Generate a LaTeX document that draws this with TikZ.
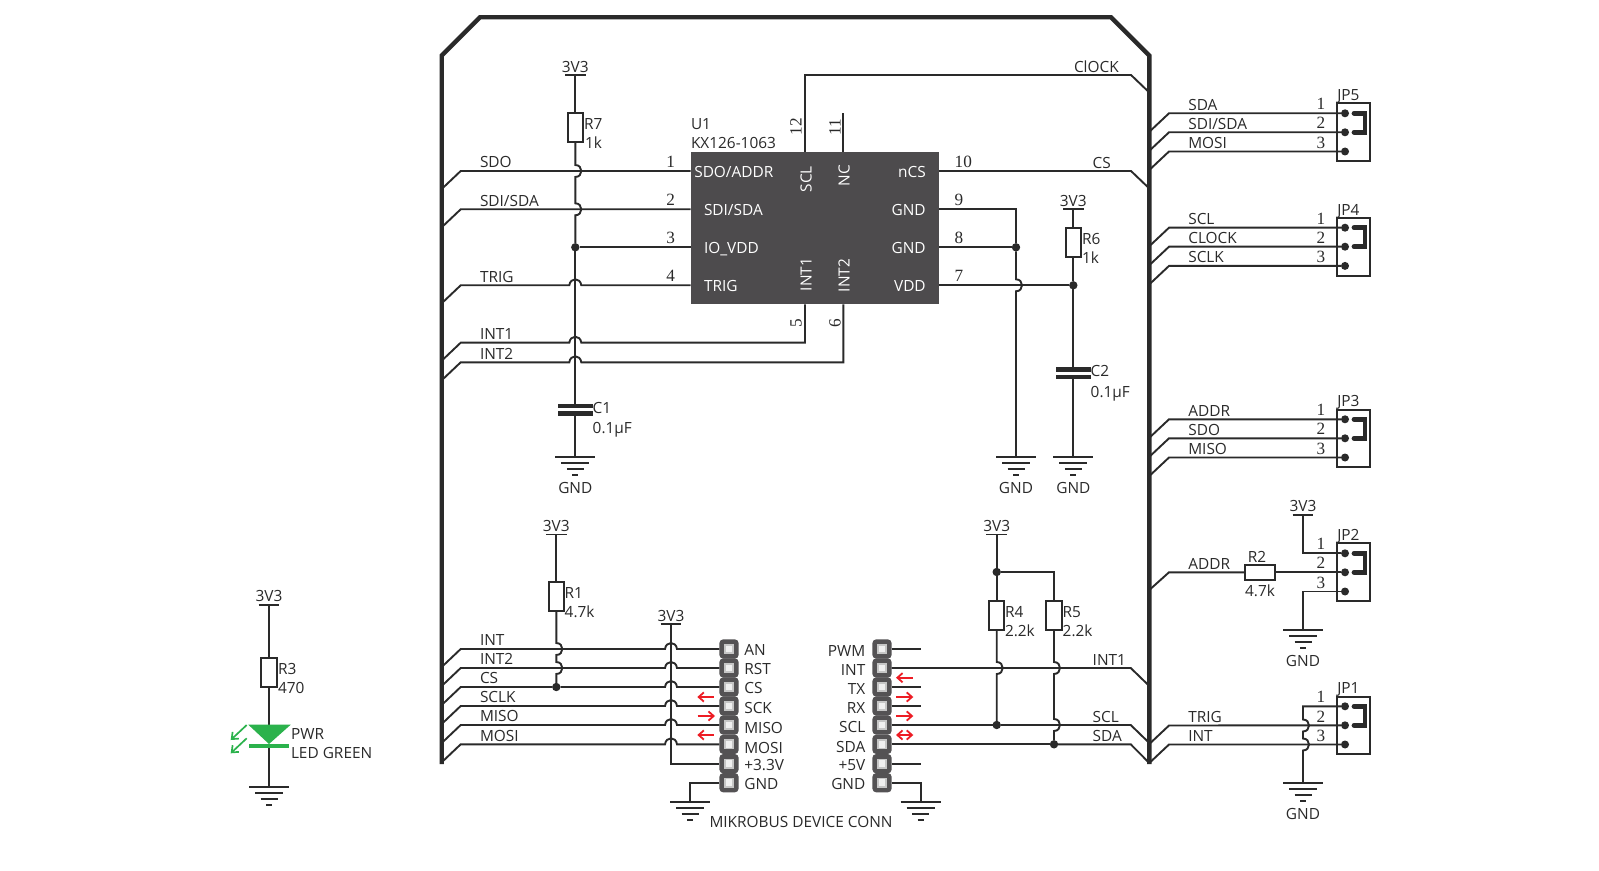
\documentclass[tikz,border=0pt]{standalone}
\usepackage{fontspec}
\setmainfont{Open Sans}
\newfontfamily\pinfont{Liberation Serif}
\usetikzlibrary{arrows.meta}
\definecolor{ink}{HTML}{2A2A2A}
\definecolor{icfill}{HTML}{4D4B4D}
\definecolor{ledgreen}{HTML}{2BB24C}
\definecolor{sigred}{HTML}{ED1C24}
\definecolor{hdrdark}{HTML}{545254}
\tikzset{
  wire/.style={draw=ink,line width=0.95pt,line join=miter},
  frameline/.style={draw=ink,line width=2.2pt,line join=miter},
  lbl/.style={inner sep=0pt,outer sep=0pt,text=ink,yshift=-0.25pt,font=\fontsize{7.7}{8}\selectfont},
  lw/.style={lbl,anchor=base west},
  le/.style={lbl,anchor=base east},
  lc/.style={lbl,anchor=base},
  icw/.style={lw,text=white},
  ice/.style={le,text=white},
  icr/.style={lbl,text=white,rotate=90,anchor=center},
  pinnum/.style={inner sep=0pt,outer sep=0pt,text=ink,font=\pinfont\fontsize{8.6}{9}\selectfont,anchor=center},
  resbox/.style={draw=ink,line width=0.95pt,fill=white,inner sep=0pt,outer sep=0pt,minimum width=7.7pt,minimum height=14.3pt},
  resboxh/.style={resbox,minimum width=14.7pt,minimum height=7.7pt},
  jdot/.style={fill=ink,circle,inner sep=0pt,minimum size=4.2pt,outer sep=0pt},
  pdot/.style={fill=ink,circle,inner sep=0pt,minimum size=4pt,outer sep=0pt},
  jbox/.style={draw=ink,line width=0.95pt,inner sep=0pt,outer sep=0pt,minimum width=16.3pt,minimum height=28.7pt},
  sigarrow/.style={draw=sigred,line width=0.9pt,{Straight Barb[length=2.6pt,width=4.6pt]}-},
  sigarrowr/.style={draw=sigred,line width=0.9pt,-{Straight Barb[length=2.6pt,width=4.6pt]}},
  sigarrowb/.style={draw=sigred,line width=0.9pt,{Straight Barb[length=2.6pt,width=4.6pt]}-{Straight Barb[length=2.6pt,width=4.6pt]}},
  ledarrow/.style={draw=ledgreen,line width=0.85pt,-{Straight Barb[length=2.8pt,width=4.6pt]}},
}
% vertical wire bulging right over a horizontal one
\newcommand\HopV[2]{-- (#1,#2-6) .. controls (#1+8,#2-6) and (#1+8,#2+6) .. (#1,#2+6)}
% horizontal wire bulging up over a vertical one (left to right)
\newcommand\HopH[2]{-- (#1-6,#2) .. controls (#1-5,#2-8) and (#1+5,#2-8) .. (#1+6,#2)}
\newcommand\GndSym[2]{%
  \draw[wire] (#1-20,#2) -- (#1+20,#2);
  \draw[wire] (#1-14,#2+6) -- (#1+14,#2+6);
  \draw[wire] (#1-8.5,#2+12) -- (#1+8.5,#2+12);
  \draw[draw=ink,line width=1.1pt] (#1-3,#2+18) -- (#1+3,#2+18);
}
% name, x, bar y
\newcommand\VccSym[3]{%
  \coordinate (#1) at (#2,#3);
  \draw[wire] (#2-10.3,#3) -- (#2+10.3,#3);
  \node[lc] (#1txt) at (#2,#3-3.4) {3V3};
}
\newcommand\HdrPin[2]{%
  \fill[hdrdark,rounded corners=2pt] (#1-9.7,#2-9.7) rectangle (#1+9.7,#2+9.7);
  \fill[gray!45] (#1-5,#2-5) rectangle (#1+5,#2+5);
  \fill[gray!12] (#1-3.3,#2-3.3) rectangle (#1+3.3,#2+3.3);
}
% name, box top y, y1
\newcommand\Jumper[3]{%
  \node[jbox,anchor=north west] (#1) at (1337.3,#2) {};
  \node[lw] (#1txt) at (1337.3,#2-3.4) {#1};
  \node[pdot] (#1a) at (1345,#3) {};
  \node[pdot] (#1b) at (1345,#3+19) {};
  \node[pdot] (#1c) at (1345,#3+38.2) {};
  \draw[draw=ink,line width=2.4pt,line cap=round] (1354,#3) -- (1365,#3) -- (1365,#3+19) -- (1354,#3+19);
  \node[pinnum] (#1n1) at (1321,#3-9) {1};
  \node[pinnum] (#1n2) at (1321,#3+10) {2};
  \node[pinnum] (#1n3) at (1321,#3+29.2) {3};
}
% bus entry on the right-hand side, wire to a target
\newcommand\EntryR[4]{%
  \draw[wire] (1149.3,#1+18.5) -- (1169,#1) -- (#3);
  \node[lw] (#4) at (1188.3,#1-3.7) {#2};
}
\begin{document}
\begin{tikzpicture}[x=0.5pt,y=-0.5pt]
\useasboundingbox (0,0) rectangle (1599,871);
\fill[white] (0,0) rectangle (1599,871);

% frame
\draw[frameline] (441.7,764) -- (441.7,55.5) -- (480,17.3) -- (1111,17.3) -- (1149.3,55.5) -- (1149.3,764);

% U1
\node[fill=icfill,inner sep=0pt,outer sep=0pt,minimum width=124.15pt,minimum height=76.15pt] (U1) at (814.85,228.15) {};
\coordinate (p1) at (690.7,171);
\coordinate (p2) at (690.7,209.3);
\coordinate (p3) at (690.7,247.3);
\coordinate (p4) at (690.7,285.3);
\coordinate (p5) at (805,304.3);
\coordinate (p6) at (843.3,304.3);
\coordinate (p7) at (939,285.3);
\coordinate (p8) at (939,247.3);
\coordinate (p9) at (939,209.3);
\coordinate (p10) at (939,171);
\coordinate (p11) at (843.3,152);
\coordinate (p12) at (805,152);
\node[lw] (u1a) at (691,129) {U1};
\node[lw] (u1b) at (691,148.3) {KX126-1063};
\node[icw] (t1) at (694.3,176.7) {SDO/ADDR};
\node[icw] (t2) at (704,215) {SDI/SDA};
\node[icw] (t3) at (704,253.5) {IO\_VDD};
\node[icw] (t4) at (704,291.5) {TRIG};
\node[ice] (t10) at (925.7,177) {nCS};
\node[ice] (t9) at (925.7,215) {GND};
\node[ice] (t8) at (925.7,253) {GND};
\node[ice] (t7) at (925.7,291) {VDD};
\node[icr] (t12) at (806,178.7) {SCL};
\node[icr] (t11) at (844,175) {NC};
\node[icr] (t5) at (806,274) {INT1};
\node[icr] (t6) at (844,275) {INT2};
\node[pinnum] (n1) at (670.7,162) {1};
\node[pinnum] (n2) at (670.7,200) {2};
\node[pinnum] (n3) at (670.7,238) {3};
\node[pinnum] (n4) at (670.7,276) {4};
\node[pinnum] (n10) at (963.3,162) {10};
\node[pinnum] (n9) at (959,200) {9};
\node[pinnum] (n8) at (959,238) {8};
\node[pinnum] (n7) at (959,276) {7};
\node[pinnum,rotate=90] (n12) at (796,127) {12};
\node[pinnum,rotate=90] (n11) at (835,127) {11};
\node[pinnum,rotate=90] (n5) at (796,323) {5};
\node[pinnum,rotate=90] (n6) at (835,323) {6};

% left signals of U1
\draw[wire] (441.7,189) -- (460.7,171) -- (p1);
\draw[wire] (441.7,227.3) -- (460.7,209.3) -- (p2);
\draw[wire] (441.7,303.3) -- (460.7,285.3) \HopH{575.3}{285.3} -- (p4);
\draw[wire] (441.7,360.7) -- (460.7,342.7) \HopH{575.3}{342.7} -- (805,342.7) -- (p5);
\draw[wire] (441.7,380.3) -- (460.7,362.3) \HopH{575.3}{362.3} -- (843.3,362.3) -- (p6);
\node[lw] (sdo) at (480,167.5) {SDO};
\node[lw] (sdi) at (480,205.7) {SDI/SDA};
\node[lw] (trig) at (480,281.7) {TRIG};
\node[lw] (int1) at (480,339) {INT1};
\node[lw] (int2) at (480,358.6) {INT2};

% R7, C1
\VccSym{vr7}{575.3}{75.3}
\node[resbox] (R7) at (575.3,127.7) {};
\node[lw] (R7a) at (584,129) {R7};
\node[lw] (R7b) at (585,148) {1k};
\node[jdot] (j3) at (575.3,247.3) {};
\draw[wire] (vr7) -- (R7.north);
\draw[wire] (R7.south) \HopV{575.3}{171} \HopV{575.3}{209.3} -- (j3);
\draw[wire] (j3) -- (p3);
\coordinate (c1t) at (575.3,406);
\coordinate (c1b) at (575.3,413.7);
\coordinate (g1) at (575.3,457.3);
\draw[wire] (j3) -- (c1t);
\draw[wire] (c1b) -- (g1);
\draw[draw=ink,line width=2.3pt] (558,406) -- (592.7,406);
\draw[draw=ink,line width=2.3pt] (558,413.7) -- (592.7,413.7);
\node[lw] (C1a) at (592.7,413) {C1};
\node[lw] (C1b) at (592.7,433) {0.1µF};
\GndSym{575.3}{457.3}
\node[lc] (g1t) at (575.3,493) {GND};

% clock, CS, NC
\draw[wire] (p12) -- (805,75) -- (1131,75) -- (1149.3,92.5);
\draw[wire] (p11) -- (843.3,112.7);
\draw[wire] (p10) -- (1131,171) -- (1149.3,188.5);
\node[lw] (clk) at (1074,71.7) {ClOCK};
\node[lw] (cs) at (1092.7,167.7) {CS};

% GND pins
\node[jdot] (j8) at (1016,247.3) {};
\coordinate (g2) at (1016,457.3);
\draw[wire] (p9) -- (1016,209.3) -- (j8);
\draw[wire] (p8) -- (j8);
\draw[wire] (j8) \HopV{1016}{285.3} -- (g2);
\GndSym{1016}{457.3}
\node[lc] (g2t) at (1016,493) {GND};

% VDD, R6, C2
\VccSym{vr6}{1073.3}{209.3}
\node[resbox] (R6) at (1073.3,242.5) {};
\node[lw] (R6a) at (1082,244) {R6};
\node[lw] (R6b) at (1082,263) {1k};
\node[jdot] (j7) at (1073.3,285.3) {};
\draw[wire] (p7) -- (j7);
\draw[wire] (vr6) -- (R6.north);
\draw[wire] (R6.south) -- (j7);
\coordinate (c2t) at (1073.3,369.5);
\coordinate (c2b) at (1073.3,377);
\coordinate (g3) at (1073.3,457.3);
\draw[wire] (j7) -- (c2t);
\draw[wire] (c2b) -- (g3);
\draw[draw=ink,line width=2.3pt] (1056,369.5) -- (1090.7,369.5);
\draw[draw=ink,line width=2.3pt] (1056,377) -- (1090.7,377);
\node[lw] (C2a) at (1090.7,376.5) {C2};
\node[lw] (C2b) at (1090.7,396.5) {0.1µF};
\GndSym{1073.3}{457.3}
\node[lc] (g3t) at (1073.3,493) {GND};

% jumpers JP5, JP4, JP3
\Jumper{JP5}{103.3}{113.3}
\EntryR{113.3}{SDA}{JP5a}{l51}
\EntryR{132.3}{SDI/SDA}{JP5b}{l52}
\EntryR{151.5}{MOSI}{JP5c}{l53}
\Jumper{JP4}{218.3}{227.7}
\EntryR{227.7}{SCL}{JP4a}{l41}
\EntryR{246.7}{CLOCK}{JP4b}{l42}
\EntryR{265.9}{SCLK}{JP4c}{l43}
\Jumper{JP3}{409.7}{419.3}
\EntryR{419.3}{ADDR}{JP3a}{l31}
\EntryR{438.3}{SDO}{JP3b}{l32}
\EntryR{457.5}{MISO}{JP3c}{l33}

% JP2
\Jumper{JP2}{543.3}{553.3}
\VccSym{vjp2}{1303}{514.7}
\draw[wire] (vjp2) -- (1303,553.3) -- (JP2a);
\node[resboxh] (R2) at (1260,572.3) {};
\draw[wire] (1149.3,590) -- (1169,572.3) -- (R2.west);
\draw[wire] (R2.east) -- (JP2b);
\coordinate (g4) at (1303,630);
\draw[wire] (JP2c) -- (1303,591.5) -- (g4);
\node[lw] (l21) at (1188.3,569) {ADDR};
\node[lc] (R2a) at (1257,561.7) {R2};
\node[lc] (R2b) at (1260,596) {4.7k};
\GndSym{1303}{630}
\node[lc] (g4t) at (1303,665.5) {GND};

% JP1
\Jumper{JP1}{696.7}{706.3}
\coordinate (g5) at (1303,782.7);
\draw[wire] (JP1a) -- (1303,706.3) \HopV{1303}{725.5} \HopV{1303}{744.5} -- (g5);
\EntryR{725.5}{TRIG}{JP1b}{l11}
\EntryR{744.5}{INT}{JP1c}{l12}
\GndSym{1303}{782.7}
\node[lc] (g5t) at (1303,818.5) {GND};

% left header
\foreach \yy in {649,668,687,706,725,744.3,763.7,782.7} {\HdrPin{729}{\yy}}
\foreach \yy in {649,668,687,706,725,744.3,763.7,782.7} {\HdrPin{882}{\yy}}
\coordinate (a1) at (719.3,649);
\coordinate (a2) at (719.3,668);
\coordinate (a3) at (719.3,687);
\coordinate (a4) at (719.3,706);
\coordinate (a5) at (719.3,725);
\coordinate (a6) at (719.3,744.3);
\coordinate (a7) at (719.3,763.7);
\coordinate (a8) at (719.3,782.7);
\coordinate (b1) at (891.7,649);
\coordinate (b2) at (891.7,668);
\coordinate (b3) at (891.7,687);
\coordinate (b4) at (891.7,706);
\coordinate (b5) at (891.7,725);
\coordinate (b6) at (891.7,744.3);
\coordinate (b7) at (891.7,763.7);
\coordinate (b8) at (891.7,782.7);
\node[lw] (ha1) at (744.3,655) {AN};
\node[lw] (ha2) at (744.3,674) {RST};
\node[lw] (ha3) at (744.3,693.3) {CS};
\node[lw] (ha4) at (744.3,712.7) {SCK};
\node[lw] (ha5) at (744.3,733.3) {MISO};
\node[lw] (ha6) at (744.3,752.7) {MOSI};
\node[lw] (ha7) at (744.3,770) {+3.3V};
\node[lw] (ha8) at (744.3,789) {GND};
\node[le] (hb1) at (865.3,655.7) {PWM};
\node[le] (hb2) at (865.3,674.5) {INT};
\node[le] (hb3) at (865.3,694) {TX};
\node[le] (hb4) at (865.3,713.3) {RX};
\node[le] (hb5) at (865.3,732.2) {SCL};
\node[le] (hb6) at (865.3,751.7) {SDA};
\node[le] (hb7) at (865.3,770) {+5V};
\node[le] (hb8) at (865.3,789) {GND};
\node[lc] (mb) at (801,827.3) {MIKROBUS DEVICE CONN};

% left bus to header
\node[jdot] (j1) at (556.3,687) {};
\draw[wire] (441.7,667) -- (460.7,649) \HopH{671}{649} -- (a1);
\draw[wire] (441.7,686) -- (460.7,668) \HopH{671}{668} -- (a2);
\draw[wire] (441.7,705) -- (460.7,687) -- (j1);
\draw[wire] (j1) \HopH{671}{687} -- (a3);
\draw[wire] (441.7,724) -- (460.7,706) \HopH{671}{706} -- (a4);
\draw[wire] (441.7,743) -- (460.7,725) \HopH{671}{725} -- (a5);
\draw[wire] (441.7,762.3) -- (460.7,744.3) \HopH{671}{744.3} -- (a6);
\node[lw] (li1) at (480,645.3) {INT};
\node[lw] (li2) at (480,664.3) {INT2};
\node[lw] (li3) at (480,683.3) {CS};
\node[lw] (li4) at (480,702.3) {SCLK};
\node[lw] (li5) at (480,721.3) {MISO};
\node[lw] (li6) at (480,740.6) {MOSI};

% R1
\VccSym{vr1}{556.3}{534.5}
\node[resbox] (R1) at (556.3,596.5) {};
\node[lw] (R1a) at (564.7,597.7) {R1};
\node[lw] (R1b) at (564.7,616.7) {4.7k};
\draw[wire] (vr1) -- (R1.north);
\draw[wire] (R1.south) \HopV{556.3}{649} \HopV{556.3}{668} -- (j1);

% second 3V3 to header
\VccSym{vh}{671}{624}
\draw[wire] (vh) -- (671,763.7) -- (a7);
\coordinate (g6) at (690,801.7);
\draw[wire] (a8) -- (690,782.7) -- (g6);
\GndSym{690}{801.7}

% right side of header
\draw[wire] (b1) -- (920.7,649);
\draw[wire] (b3) -- (920.7,687);
\draw[wire] (b4) -- (920.7,706);
\draw[wire] (b7) -- (920.7,763.7);
\coordinate (g7) at (920.7,801.7);
\draw[wire] (b8) -- (920.7,782.7) -- (g7);
\GndSym{920.7}{801.7}
\node[jdot] (j4) at (996.7,725) {};
\node[jdot] (j5) at (1054,744.3) {};
\draw[wire] (b2) -- (1130.7,668) -- (1149.3,686);
\draw[wire] (b5) -- (j4);
\draw[wire] (j4) -- (1130.7,725) -- (1149.3,743);
\draw[wire] (b6) -- (j5);
\draw[wire] (j5) -- (1130.7,744.3) -- (1149.3,763);
\node[lw] (ri1) at (1092.7,665) {INT1};
\node[lw] (ri2) at (1092.7,722.3) {SCL};
\node[lw] (ri3) at (1092.7,741) {SDA};

% R4, R5
\VccSym{vr4}{996.7}{534.5}
\node[jdot] (j6) at (996.7,572) {};
\node[resbox] (R4) at (996.7,615.3) {};
\node[resbox] (R5) at (1054,615.3) {};
\node[lw] (R4a) at (1005,616.7) {R4};
\node[lw] (R4b) at (1005,636) {2.2k};
\node[lw] (R5a) at (1062.7,616.7) {R5};
\node[lw] (R5b) at (1062.7,636) {2.2k};
\draw[wire] (vr4) -- (j6);
\draw[wire] (j6) -- (R4.north);
\draw[wire] (j6) -- (1054,572) -- (R5.north);
\draw[wire] (R4.south) \HopV{996.7}{668} -- (j4);
\draw[wire] (R5.south) \HopV{1054}{668} \HopV{1054}{725} -- (j5);

% direction arrows
\draw[sigarrow] (697.3,697) -- (714,697);
\draw[sigarrowr] (697.7,716) -- (715,716);
\draw[sigarrow] (697.3,735) -- (714,735);
\draw[sigarrow] (896,677.7) -- (913.3,677.7);
\draw[sigarrowr] (896,697) -- (913.3,697);
\draw[sigarrowr] (896,716) -- (913.3,716);
\draw[sigarrowb] (896,735) -- (913.3,735);

% LED branch
\VccSym{vr3}{269}{604.7}
\node[resbox] (R3) at (269,672.7) {};
\node[lw] (R3a) at (278,674) {R3};
\node[lw] (R3b) at (278,693.3) {470};
\coordinate (ledt) at (269,724.7);
\coordinate (ledb) at (269,745.7);
\coordinate (g8) at (269,786.7);
\draw[wire] (vr3) -- (R3.north);
\draw[wire] (R3.south) -- (ledt);
\draw[wire] (ledb) -- (g8);
\fill[ledgreen] (248.3,724.7) -- (290.7,724.7) -- (269,744) -- cycle;
\draw[draw=ledgreen,line width=2pt] (249.3,745.7) -- (289.3,745.7);
\draw[ledarrow] (246.7,725) -- (230.7,740);
\draw[ledarrow] (246.7,738.3) -- (230.7,753.3);
\node[lw] (pwr) at (291,739.3) {PWR};
\node[lw] (ledg) at (291,758.3) {LED GREEN};
\GndSym{269}{786.7}
\end{tikzpicture}
\end{document}
